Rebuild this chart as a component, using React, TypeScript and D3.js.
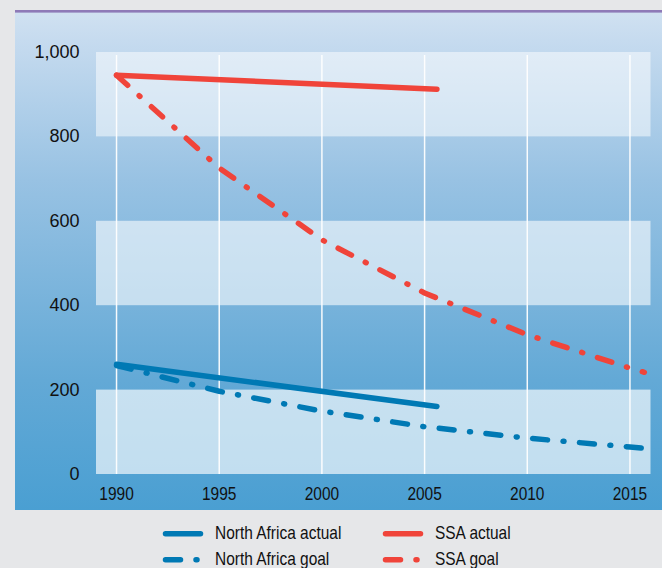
import React from "react";
import * as d3 from "d3";

const yTicks = [0, 200, 400, 600, 800, 1000];
const yTickLabels = ["0", "200", "400", "600", "800", "1,000"];
const xTicks = [1990, 1995, 2000, 2005, 2010, 2015];

const actualYears = [1990, 2005.6];
const northAfricaActual = [260, 160];
const ssaActual = [945, 912];

const goalYears = [1990, 1995, 2000, 2005, 2010, 2015, 2015.7];
const northAfricaGoal = [257, 196, 149, 112, 85, 64, 61];
const ssaGoal = [945, 725, 555, 429, 330, 251, 241];

const BLUE = "#0079b4";
const RED = "#f0443a";
const FONT = "'Liberation Sans', Arial, sans-serif";
const DASH = "15 15.5 1 15.5";
const NARROW = 0.86;

const W = 662;
const H = 568;

export default function App() {
  const x = d3.scaleLinear().domain([1989, 2016]).range([96, 650.5]);
  const y = d3.scaleLinear().domain([0, 1000]).range([474, 52]);
  const line = d3
    .line<[number, number]>()
    .x((d) => x(d[0]))
    .y((d) => y(d[1]));

  const series = [
    { name: "North Africa goal", years: goalYears, values: northAfricaGoal, color: BLUE, dash: DASH },
    { name: "SSA goal", years: goalYears, values: ssaGoal, color: RED, dash: DASH },
    { name: "North Africa actual", years: actualYears, values: northAfricaActual, color: BLUE, dash: null },
    { name: "SSA actual", years: actualYears, values: ssaActual, color: RED, dash: null },
  ];

  const bands = [0, 400, 800];
  const legend = [
    { name: "North Africa actual", color: BLUE, dash: null, lx: 165.5, ly: 533.7 },
    { name: "North Africa goal", color: BLUE, dash: DASH, lx: 165.5, ly: 559.7 },
    { name: "SSA actual", color: RED, dash: null, lx: 385.5, ly: 533.7 },
    { name: "SSA goal", color: RED, dash: DASH, lx: 385.5, ly: 559.7 },
  ];

  return (
    <svg
      width={W}
      height={H}
      style={{ position: "absolute", left: 0, top: 0 }}
      xmlns="http://www.w3.org/2000/svg"
    >
      <defs>
        <linearGradient id="panelGrad" x1="0" y1="0" x2="0" y2="1">
          <stop offset="0" stopColor="#d0e1f1" />
          <stop offset="0.056" stopColor="#c6dbef" />
          <stop offset="0.337" stopColor="#98c2e3" />
          <stop offset="0.739" stopColor="#63a9d6" />
          <stop offset="1" stopColor="#4a9fd2" />
        </linearGradient>
      </defs>
      <rect x={0} y={0} width={W} height={H} fill="#e6e7e9" />
      <rect x={15} y={12} width={W - 15} height={498} fill="url(#panelGrad)" />
      <rect x={15} y={10} width={W - 15} height={2.6} fill="#8e7ab7" />

      {bands.map((b, i) => (
        <rect
          key={b}
          x={x(1989)}
          y={y(b + 200)}
          width={x(2016) - x(1989)}
          height={y(b) - y(b + 200)}
          fill="#ffffff"
          opacity={[0.65, 0.58, 0.5][i]}
        />
      ))}

      {xTicks.map((t) => (
        <line
          key={t}
          x1={x(t)}
          x2={x(t)}
          y1={55}
          y2={y(0)}
          stroke="#ffffff"
          strokeWidth={1.5}
          opacity={0.95}
        />
      ))}

      {yTicks.map((t, i) => (
        <text
          key={t}
          x={79.5}
          y={y(t)}
          textAnchor="end"
          dominantBaseline="central"
          fontFamily={FONT}
          fontSize={18}
          fill="#111"
        >
          {yTickLabels[i]}
        </text>
      ))}

      {xTicks.map((t) => (
        <text
          key={t}
          transform={`translate(${x(t)},500) scale(${NARROW},1)`}
          textAnchor="middle"
          fontFamily={FONT}
          fontSize={18}
          fill="#111"
        >
          {t}
        </text>
      ))}

      {series.map((s) => (
        <path
          key={s.name}
          d={line(s.years.map((yr, i) => [yr, s.values[i]] as [number, number])) || ""}
          fill="none"
          stroke={s.color}
          strokeWidth={5.5}
          strokeLinecap="round"
          strokeLinejoin="round"
          strokeDasharray={s.dash || undefined}
        />
      ))}

      {legend.map((l) => (
        <g key={l.name}>
          <line
            x1={l.lx}
            x2={l.lx + 35}
            y1={l.ly}
            y2={l.ly}
            stroke={l.color}
            strokeWidth={5.5}
            strokeLinecap="round"
            strokeDasharray={l.dash || undefined}
          />
          <text
            transform={`translate(${l.lx + 49.5},${l.ly + 5.5}) scale(${NARROW},1)`}
            fontFamily={FONT}
            fontSize={18}
            fill="#111"
          >
            {l.name}
          </text>
        </g>
      ))}
    </svg>
  );
}
